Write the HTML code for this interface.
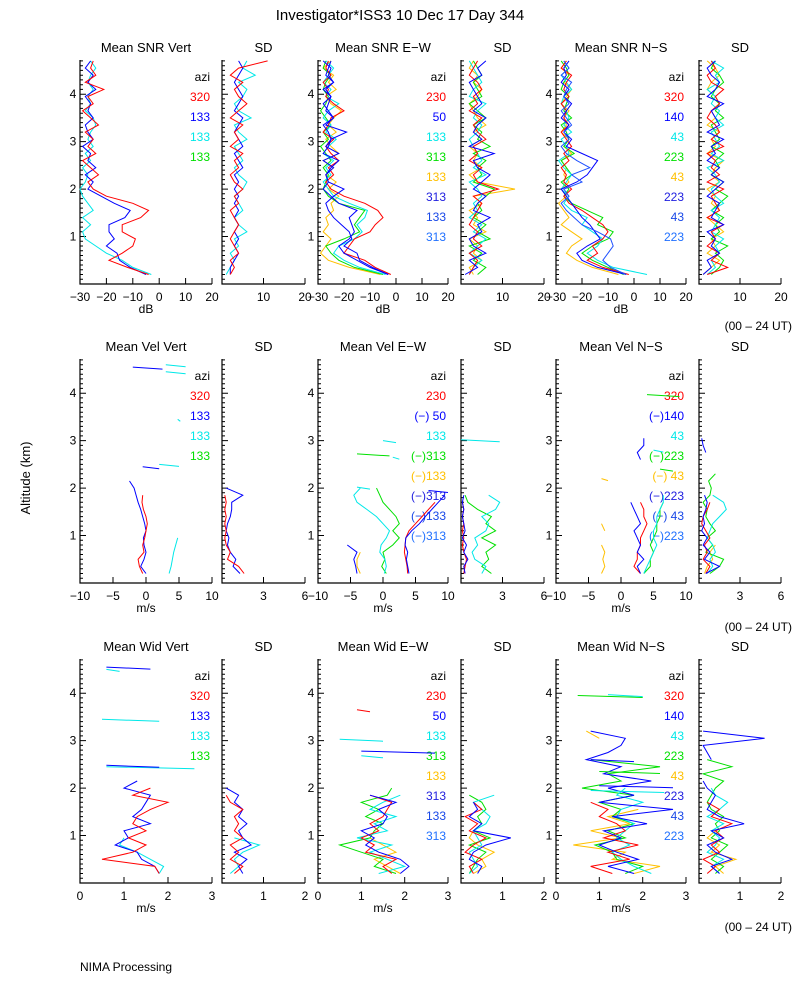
<!DOCTYPE html>
<html><head><meta charset="utf-8"><style>
html,body{margin:0;padding:0;background:#fff;}
svg{display:block;font-family:"Liberation Sans",sans-serif;}
</style></head><body>
<svg id="chart" width="800" height="1000" viewBox="0 0 800 1000">
<text x="400" y="20" text-anchor="middle" font-size="15">Investigator*ISS3   10 Dec 17 Day 344</text>
<text x="30" y="478" text-anchor="middle" font-size="13" transform="rotate(-90 30 478)">Altitude (km)</text>
<text x="80" y="971" font-size="12">NIMA Processing</text>
<text x="792" y="330" text-anchor="end" font-size="12">(00 – 24 UT)</text>
<text x="792" y="631" text-anchor="end" font-size="12">(00 – 24 UT)</text>
<text x="792" y="931" text-anchor="end" font-size="12">(00 – 24 UT)</text>
</svg>
<script>
// ---- data (range gates from 0.20 km every 0.15 km) ----
const gateStart = 0.2;
const gateStep = 0.15;
// Row 1: SNR (dB)
const snrVertRed = [-4,-12,-19,-14,-10,-9,-14,-14,-7,-4,-10,-20,-25,-27,-23,-26,-29,-24,-27,-25,-28,-23,-26,-29,-25,-27,-21,-28,-24,-26,-25];
const snrVertBlue = [-5,-11,-15,-16,-20,-17,-19,-19,-13,-11,-17,-22,-27,-25,-28,-24,-27,-26,-29,-25,-27,-28,-25,-27,-26,-28,-24,-27,-25,-28,-26];
const snrVertCyan = [-3,-10,-14,-20,-24,-28,-29,-26,-29,-25,-27,-29,-30,-28,-27,-29,-26,-28,-25,-27,-26,-24,-25,-28,-26,-27,-25,-27,-26,-24,-26];
const snrVertSdRed = [2,3,2,4,3,2,3,4,3,2,4,3,5,3,2,4,3,5,2,4,3,5,2,4,6,4,3,5,2,4,11];
const snrVertSdBlue = [2,2,3,4,3,4,3,4,3,4,3,4,3,4,3,5,4,3,5,4,3,4,5,3,4,5,4,3,4,5,4];
const snrVertSdCyan = [1,2,3,2,4,3,6,4,3,5,4,3,5,6,4,3,5,4,3,6,4,3,7,4,3,5,6,4,8,5,6];
const snrEwRed = [-2,-8,-12,-20,-18,-16,-10,-8,-5,-7,-12,-20,-25,-27,-24,-26,-22,-25,-27,-24,-28,-26,-25,-20,-24,-27,-26,-28,-25,-27,-26];
const snrEwBlue = [-3,-10,-15,-20,-22,-18,-16,-17,-18,-15,-22,-25,-28,-26,-27,-24,-28,-22,-27,-25,-26,-28,-24,-27,-26,-25,-28,-24,-27,-26,-25];
const snrEwCyan = [-4,-14,-20,-24,-22,-16,-13,-15,-12,-11,-18,-24,-26,-28,-25,-27,-24,-28,-26,-23,-27,-25,-28,-26,-22,-27,-25,-28,-26,-24,-27];
const snrEwGreen = [-5,-16,-22,-25,-27,-20,-14,-16,-14,-12,-22,-26,-28,-27,-26,-28,-25,-27,-29,-26,-28,-25,-27,-29,-27,-26,-28,-27,-25,-28,-27];
const snrEwOrange = [-6,-18,-26,-29,-27,-25,-28,-26,-27,-24,-25,-22,-26,-23,-27,-24,-28,-22,-25,-27,-23,-26,-24,-21,-25,-27,-23,-26,-24,-28,-25];
const snrEwBlue2 = [-3,-9,-14,-15,-20,-17,-18,-21,-24,-26,-27,-24,-20,-26,-27,-25,-22,-28,-26,-25,-19,-27,-24,-26,-28,-25,-27,-24,-26,-25,-28];
const snrEwSdRed = [2,3,4,2,5,3,4,2,3,4,5,3,9,4,3,5,2,4,3,6,4,3,5,2,4,3,5,4,2,3,4];
const snrEwSdGreen = [4,6,3,5,2,7,4,6,3,5,4,6,8,3,5,4,6,3,7,4,5,3,6,4,2,5,4,3,5,4,3];
const snrEwSdOrange = [3,2,5,3,4,2,6,3,4,2,5,3,13,4,2,5,3,4,2,5,3,6,4,3,2,4,5,3,4,2,3];
const snrEwSdBlue = [1,4,2,6,3,2,5,4,7,3,4,6,3,5,7,4,3,8,2,5,3,4,6,3,5,4,3,2,5,4,6];
const snrEwSdCyan = [2,3,5,2,4,6,3,5,2,4,3,5,4,2,6,3,5,4,3,2,4,5,3,4,6,2,3,5,4,3,2];
const snrNsRed = [-2,-12,-18,-14,-16,-12,-10,-12,-16,-20,-25,-27,-24,-27,-26,-28,-25,-27,-24,-26,-28,-25,-27,-26,-28,-25,-27,-26,-24,-28,-26];
const snrNsBlue = [-3,-14,-20,-22,-18,-13,-15,-17,-20,-22,-24,-26,-28,-22,-18,-16,-14,-20,-26,-24,-27,-25,-28,-26,-24,-27,-25,-28,-26,-27,-25];
const snrNsCyan = [5,-8,-14,-18,-14,-12,-16,-20,-18,-24,-27,-25,-28,-26,-24,-27,-29,-25,-26,-28,-24,-27,-25,-26,-28,-27,-24,-26,-28,-25,-27];
const snrNsGreen = [-4,-10,-16,-20,-16,-10,-8,-14,-12,-18,-24,-27,-25,-28,-24,-26,-28,-23,-27,-25,-26,-28,-24,-27,-26,-25,-28,-27,-25,-26,-28];
const snrNsOrange = [-6,-16,-22,-26,-24,-20,-24,-28,-25,-27,-29,-26,-28,-25,-27,-26,-28,-24,-27,-25,-28,-26,-27,-25,-28,-26,-24,-27,-25,-28,-26];
const snrNsBlue2 = [-3,-9,-12,-10,-8,-9,-14,-20,-23,-26,-28,-25,-27,-20,-24,-17,-22,-26,-28,-25,-27,-24,-26,-28,-25,-27,-26,-24,-28,-25,-27];
const snrNsSdRed = [2,7,3,5,2,4,3,6,2,5,4,3,6,2,5,3,4,2,6,3,5,4,2,3,5,4,6,3,2,4,3];
const snrNsSdBlue = [1,3,2,5,3,4,2,6,3,4,5,2,4,6,3,5,2,4,3,6,2,5,4,3,6,2,4,5,3,2,4];
const snrNsSdGreen = [3,5,6,4,7,3,5,4,6,3,5,7,4,6,3,5,4,6,3,5,4,3,6,4,5,3,4,6,5,3,4];
const snrNsSdCyan = [2,4,3,5,4,6,3,4,5,3,6,4,3,5,4,2,6,3,5,4,3,6,4,5,3,4,2,5,4,6,3];
const snrNsSdOrange = [1,3,5,2,4,3,6,4,2,5,3,4,2,5,3,4,6,2,4,3,5,2,4,3,5,4,2,3,5,4,2];
// Row 2: velocity (m/s)
const velVertRed = [-0.5,-1,-1.2,-0.3,-0.5,-0.2,0,0.2,0,-0.4,-0.6,-0.5];
const velVertBlue = [0,-0.8,-0.3,0,-0.3,-0.4,0,-0.2,-0.5,-0.8,-1.2,-1.5,-1.8,-2.5];
const velVertCyan = [3.5,3.8,4,4.2,4.5,4.8];
const velVertSdRed = [1.6,1.2,0.4,0.6,0.3,0.2,0.3,0.2,0.3,0.2,0.3,0.2];
const velVertSdBlue = [1.3,0.8,1,0.6,0.4,0.5,0.3,0.4,0.6,0.7,0.7,1.5,0.3];
const velEwRed = [3.8,3.7,3.5,3.3,3.4,3.5,4,5,6,7,8];
const velEwBlue2 = [4,3.8,3.6,3.8,3.4,3.5,4.4,5.6,6.5,7.5,8.5,9.5];
const velEwCyan = [0.2,0.5,0.3,-0.5,-0.3,0.5,1,0,-1,-2.5,-4,-4.5,-3.5];
const velEwGreen = [0.5,-0.2,0.3,0,1.5,2.5,1.5,2.5,2,1,0,-0.5,-1];
const velEwOrange = [-3.5,-4,-4,-3.5];
const velEwBlue = [-4,-4.2,-4.5,-4,-5.5];
const velEwSdRed = [0.2,0.3,0.4,0.2,0.1,0.2,0.1,0.2,0.1,0.2,0.1];
const velEwSdGreen = [2.2,1.5,2,1.8,2.5,1.5,2.5,1.8,2.2,1.2,0.5,0.3];
const velEwSdCyan = [1.5,1.8,1,0.8,1.2,1,1.8,2,1.5,2.5,2.8,2];
const velEwSdBlue = [0.3,0.2,0.5,0.2,0.4,0.1,0.3,0.2,0.1,0.2,0.1,0.2];
const velNsRed = [3,2,2.5,2.5,3,3,3.5,4,3.5,3.5,3];
const velNsBlue = [3,2.5,3.5,2.5,3,2.5,2,3,2.5,2,1.5,null,null,null,null,null,3,2.5,3.5,3.5];
const velNsGreen = [3.5,4.5,4.5,5,4.5,5,5.5,5.5,6,6,6.5];
const velNsCyan = [3.5,4,4.5,5,5.5,5,5,5.5,5.5,6,6.5,6.5];
const velNsOrange = [-3,-2.5,-2.8,-2.5,-3,null,-2.5,-3];
const velNsSdRed = [0.5,0.8,0.3,0.6,0.4,0.8,0.5,0.2,0.3,0.6,0.8];
const velNsSdBlue = [0.5,1.5,0.4,0.8,0.3,0.6,0.2,0.4,0.3,0.5,0.6,0.4,null,null,null,null,null,0.5,0.3,0.2];
const velNsSdGreen = [0.8,1.5,1.8,0.5,1.0,0.6,1.2,0.8,0.5,0.6,0.3,0.8,0.9,0.7,1.2];
const velNsSdCyan = [0.6,1.0,0.8,1.2,1.0,0.6,0.8,1.0,1.5,2.0,1.8,1.0];
const velNsSdOrange = [0.4,0.6,1.0,0.8,1.2];
// Row 3: spectral width (m/s)
const widVertRed = [1.8,1.7,0.5,1.2,1.5,1.1,1.5,1.2,1.3,1.6,2.0,1.2,1.6];
const widVertBlue = [1.8,1.7,1.4,1.3,0.8,1.1,1.0,1.6,1.2,1.4,1.5,1.6,1.0,1.3];
const widVertCyan = [1.8,1.9,1.6,1.3,0.9,1.0];
const widVertSdRed = [0.3,0.5,0.2,0.4,0.2,0.5,0.3,0.4,0.3,0.5,0.2,0.1];
const widVertSdBlue = [0.5,0.4,0.6,0.3,0.7,0.5,0.4,0.6,0.4,0.5,0.3,0.4,0.1];
const widVertSdCyan = [0.2,0.4,0.3,0.5,0.9,0.3];
const widEwRed = [1.7,1.5,1.8,1.1,1.3,1.0,1.4,1.2,1.5,1.6,1.7,1.2];
const widEwBlue = [1.9,2.1,1.9,1.4,1.1,1.3,1.0,1.5,1.6,1.4,1.8,1.2];
const widEwGreen = [1.8,1.3,1.5,1.0,0.5,1.2,1.3,1.5,1.1,1.4,1.0,1.6,1.7];
const widEwCyan = [1.4,2.0,1.6,1.2,1.7,0.9,1.6,1.3,1.8,1.2,1.5,1.9];
const widEwOrange = [1.9,1.6,1.3,1.8,1.5,1.2];
const widEwSdRed = [0.3,0.2,0.5,0.1,0.3,0.6,0.2,0.4,0.1,0.5,0.3];
const widEwSdBlue = [0.4,0.5,0.2,0.3,0.6,1.2,0.3,0.5,0.2,0.4,0.3];
const widEwSdGreen = [0.2,0.3,0.4,0.6,0.2,0.7,0.3,0.5,0.4,0.6,0.5,0.2];
const widEwSdOrange = [0.3,0.6,0.5,0.8,0.4,0.2,0.3];
const widEwSdCyan = [0.2,0.4,0.3,0.2,0.5,0.4,0.3,0.6,0.7,0.5,0.3,0.8];
const widNsBlue = [1.8,1.2,1.9,1.4,1.0,1.5,1.1,2.1,1.3,2.7,1.0,1.8,1.2,2.2,1.1,1.5,0.7,1.2,1.5,1.6,0.8];
const widNsGreen = [1.6,2.0,1.4,1.3,0.9,1.6,1.2,1.8,1.3,1.5,1.0,1.8,0.6,1.5,1.2,2.4,0.8];
const widNsCyan = [2.2,1.8,1.5,1.3,1.7,1.4,1.6,1.8,1.4,1.5,2.0,1.4,1.6];
const widNsOrange = [1.8,2.4,1.3,1.6,0.4,1.5,0.8,1.7,1.2,1.9,null,null,null,null,null,null,null,null,null,1.0,0.7];
const widNsRed = [1.3,0.8,1.7,1.2,1.9,1.1,1.6,1.4,1.0,1.2,0.8];
const widNsSdBlue = [0.5,0.3,0.8,0.4,0.2,0.6,0.3,1.1,0.5,0.2,0.3,0.4,0.2,0.1,null,null,0.3,0.2,0.1,1.6,0.1];
const widNsSdGreen = [0.4,0.6,0.3,0.5,0.7,0.3,0.5,0.4,0.6,0.3,0.2,0.3,0.4,0.6,0.1,0.8,0.2];
const widNsSdCyan = [0.5,0.3,0.6,0.2,0.4,0.5,0.3,0.6,0.2,0.5,0.7,0.4,0.3];
const widNsSdOrange = [0.6,0.4,0.9,0.3,0.5,0.2,0.4];
const widNsSdRed = [0.2,0.4,0.1,0.5,0.3,0.6,0.4,0.8,0.3,0.5,0.2];
// isolated short runs: altitude (km), start value, end value
const velVertSegAlt = [4.55,4.6,4.45,2.45,2.5,3.45];
const velVertSegFrom = [-2,3,3,-0.5,2,4.8];
const velVertSegTo = [2.5,6,6,2,5,5.2];
const velEwSegAlt = [3.0,2.72,1.95,2.65,2.02];
const velEwSegFrom = [0,-4,7,1.5,-4];
const velEwSegTo = [2,1,10,2.5,-2];
const velEwSdSegAlt = [3.02];
const velEwSdSegFrom = [0];
const velEwSdSegTo = [2.8];
const velNsSegAlt = [3.97,2.8,2.4,2.2];
const velNsSegFrom = [4,5,6,-3];
const velNsSegTo = [9,6.5,8,-2];
const widVertSegAlt = [2.45,2.48,3.45,4.55,4.5];
const widVertSegFrom = [0.6,0.6,0.5,0.6,0.6];
const widVertSegTo = [2.6,1.8,1.8,1.6,0.9];
const widEwSegAlt = [3.03,2.78,2.68,3.65];
const widEwSegFrom = [0.5,1.0,1.0,0.9];
const widEwSegTo = [1.5,2.7,1.5,1.2];
const widNsSegAlt = [3.95,3.97,2.35,1.95,2.05,2.6];
const widNsSegFrom = [0.5,1.2,1.0,0.8,1.0,0.8];
const widNsSegTo = [2.0,2.0,2.4,2.5,2.7,1.8];
// tick labels / legends
const altTicks = [1,2,3,4];
const ticksSnr = [-30,-20,-10,0,10,20];
const ticksSnrSd = [10,20];
const ticksVel = [-10,-5,0,5,10];
const ticksVelSd = [3,6];
const ticksWid = [0,1,2,3];
const ticksWidSd = [1,2];
const legendVert = ["320","133","133","133"];
const legendVertColors = ["#ff0000","#0000ff","#00e8e8","#00e000"];
const legendEw = ["230","50","133","313","133","313","133","313"];
const legendEwVel = ["230","(−) 50","133","(−)313","(−)133","(−)313","(−)133","(−)313"];
const legendNs = ["320","140","43","223","43","223","43","223"];
const legendNsVel = ["320","(−)140","43","(−)223","(−) 43","(−)223","(−) 43","(−)223"];
const legend8Colors = ["#ff0000","#0000ff","#00e8e8","#00e000","#ffc000","#2020e0","#1848e8","#2070ff"];

const R="#ff0000",B="#0000ff",C="#00e8e8",G="#00e000",O="#ffc000",B2="#1e50ff";
const NS="http://www.w3.org/2000/svg";
const svg=document.getElementById('chart');
const rowTop=[60,359,659], H=224, KM_MAX=4.72;
function yOf(row,km){return rowTop[row]+H-km/KM_MAX*H;}
function xOf(p,v){return p.x0+(v-p.min)/(p.max-p.min)*(p.x1-p.x0);}
function mk(tag,attrs,parent){const e=document.createElementNS(NS,tag);for(const k in attrs)e.setAttribute(k,attrs[k]);(parent||svg).appendChild(e);return e;}

const panels=[
 {row:0,x0:80,x1:212,min:-30,max:20,ticks:ticksSnr,main:true,title:"Mean SNR Vert",unit:"dB",legend:legendVert,lc:legendVertColors,series:[[snrVertCyan,C],[snrVertBlue,B],[snrVertRed,R]]},
 {row:0,x0:222,x1:305,min:0,max:20,ticks:ticksSnrSd,title:"SD",series:[[snrVertSdCyan,C],[snrVertSdBlue,B],[snrVertSdRed,R]]},
 {row:0,x0:318,x1:448,min:-30,max:20,ticks:ticksSnr,main:true,title:"Mean SNR E−W",unit:"dB",legend:legendEw,lc:legend8Colors,series:[[snrEwOrange,O],[snrEwGreen,G],[snrEwCyan,C],[snrEwRed,R],[snrEwBlue,B],[snrEwBlue2,B]]},
 {row:0,x0:461,x1:544,min:0,max:20,ticks:ticksSnrSd,title:"SD",series:[[snrEwSdOrange,O],[snrEwSdGreen,G],[snrEwSdCyan,C],[snrEwSdRed,R],[snrEwSdBlue,B]]},
 {row:0,x0:556,x1:686,min:-30,max:20,ticks:ticksSnr,main:true,title:"Mean SNR N−S",unit:"dB",legend:legendNs,lc:legend8Colors,series:[[snrNsOrange,O],[snrNsGreen,G],[snrNsCyan,C],[snrNsRed,R],[snrNsBlue,B],[snrNsBlue2,B2]]},
 {row:0,x0:699,x1:781,min:0,max:20,ticks:ticksSnrSd,title:"SD",series:[[snrNsSdOrange,O],[snrNsSdGreen,G],[snrNsSdCyan,C],[snrNsSdRed,R],[snrNsSdBlue,B]]},
 {row:1,x0:80,x1:212,min:-10,max:10,ticks:ticksVel,main:true,title:"Mean Vel Vert",unit:"m/s",legend:legendVert,lc:legendVertColors,series:[[velVertCyan,C],[velVertBlue,B],[velVertRed,R]],segs:[velVertSegAlt,velVertSegFrom,velVertSegTo,[B,C,C,B,C,C]]},
 {row:1,x0:222,x1:305,min:0,max:6,ticks:ticksVelSd,title:"SD",series:[[velVertSdBlue,B],[velVertSdRed,R]]},
 {row:1,x0:318,x1:448,min:-10,max:10,ticks:ticksVel,main:true,title:"Mean Vel E−W",unit:"m/s",legend:legendEwVel,lc:legend8Colors,series:[[velEwOrange,O],[velEwGreen,G],[velEwCyan,C],[velEwRed,R],[velEwBlue,B],[velEwBlue2,B]],segs:[velEwSegAlt,velEwSegFrom,velEwSegTo,[C,G,B,C,C]]},
 {row:1,x0:461,x1:544,min:0,max:6,ticks:ticksVelSd,title:"SD",series:[[velEwSdGreen,G],[velEwSdCyan,C],[velEwSdRed,R],[velEwSdBlue,B]],segs:[velEwSdSegAlt,velEwSdSegFrom,velEwSdSegTo,[C]]},
 {row:1,x0:556,x1:686,min:-10,max:10,ticks:ticksVel,main:true,title:"Mean Vel N−S",unit:"m/s",legend:legendNsVel,lc:legend8Colors,series:[[velNsOrange,O],[velNsGreen,G],[velNsCyan,C],[velNsRed,R],[velNsBlue,B]],segs:[velNsSegAlt,velNsSegFrom,velNsSegTo,[G,C,G,O]]},
 {row:1,x0:699,x1:781,min:0,max:6,ticks:ticksVelSd,title:"SD",series:[[velNsSdOrange,O],[velNsSdGreen,G],[velNsSdCyan,C],[velNsSdRed,R],[velNsSdBlue,B]]},
 {row:2,x0:80,x1:212,min:0,max:3,ticks:ticksWid,main:true,title:"Mean Wid Vert",unit:"m/s",legend:legendVert,lc:legendVertColors,series:[[widVertCyan,C],[widVertBlue,B],[widVertRed,R]],segs:[widVertSegAlt,widVertSegFrom,widVertSegTo,[C,B,C,B,C]]},
 {row:2,x0:222,x1:305,min:0,max:2,ticks:ticksWidSd,title:"SD",series:[[widVertSdCyan,C],[widVertSdBlue,B],[widVertSdRed,R]]},
 {row:2,x0:318,x1:448,min:0,max:3,ticks:ticksWid,main:true,title:"Mean Wid E−W",unit:"m/s",legend:legendEw,lc:legend8Colors,series:[[widEwOrange,O],[widEwGreen,G],[widEwCyan,C],[widEwRed,R],[widEwBlue,B]],segs:[widEwSegAlt,widEwSegFrom,widEwSegTo,[C,B,C,R]]},
 {row:2,x0:461,x1:544,min:0,max:2,ticks:ticksWidSd,title:"SD",series:[[widEwSdOrange,O],[widEwSdGreen,G],[widEwSdCyan,C],[widEwSdRed,R],[widEwSdBlue,B]]},
 {row:2,x0:556,x1:686,min:0,max:3,ticks:ticksWid,main:true,title:"Mean Wid N−S",unit:"m/s",legend:legendNs,lc:legend8Colors,series:[[widNsOrange,O],[widNsGreen,G],[widNsCyan,C],[widNsRed,R],[widNsBlue,B]],segs:[widNsSegAlt,widNsSegFrom,widNsSegTo,[G,C,G,C,B,B]]},
 {row:2,x0:699,x1:781,min:0,max:2,ticks:ticksWidSd,title:"SD",series:[[widNsSdOrange,O],[widNsSdGreen,G],[widNsSdCyan,C],[widNsSdRed,R],[widNsSdBlue,B]]}
];

panels.forEach((p,pi)=>{
  const g=mk('g',{});
  
  
  const top=rowTop[p.row], bot=top+H;
  const t=mk('text',{x:(p.x0+p.x1)/2,y:top-8,'text-anchor':'middle','font-size':'13'},g);
  t.textContent=p.title;
  
  
  const ax=mk('path',{d:`M${p.x0} ${top}V${bot}H${p.x1}`,stroke:'#000','stroke-width':'1.2',fill:'none'},g);
  
  
  let d='';
  for(let k=1;k<=47;k++){const km=k/10;const y=yOf(p.row,km);if(y<top)break;const major=k%10===0;d+=`M${p.x0} ${y.toFixed(1)}h${major?6:3}`;}
  p.ticks.forEach(v=>{const x=xOf(p,v);d+=`M${x.toFixed(1)} ${bot}v-6`;});
  const tk=mk('path',{d:d,stroke:'#000','stroke-width':'1',fill:'none'},g);
  
  
  p.ticks.forEach(v=>{
    const tl=mk('text',{x:xOf(p,v),y:bot+17,'text-anchor':'middle','font-size':'12'},g);
    tl.textContent=String(v).replace('-','−');
    
    
  });
  if(p.main){
    altTicks.forEach(a=>{
      const yl=mk('text',{x:p.x0-7,y:yOf(p.row,a)+4,'text-anchor':'middle','font-size':'12'},g);
      yl.textContent=a;
      
      
    });
    const u=mk('text',{x:(p.x0+p.x1)/2,y:bot+29,'text-anchor':'middle','font-size':'12'},g);
    u.textContent=p.unit;
    
    
    const az=mk('text',{x:p.x1-2,y:top+21,'text-anchor':'end','font-size':'12'},g);
    az.textContent='azi';
    
    
    p.legend.forEach((lab,i)=>{
      const le=mk('text',{x:p.x1-2,y:top+41+i*20,'text-anchor':'end','font-size':'12',fill:p.lc[i]},g);
      le.textContent=lab;
      
      
    });
  }
  p.series.forEach(([vals,col])=>{
    let path='',pen=false;
    vals.forEach((v,i)=>{
      if(v===null||v===undefined){pen=false;return;}
      const km=gateStart+i*gateStep;
      const x=Math.max(p.x0,Math.min(p.x1,xOf(p,v))), y=yOf(p.row,km);
      path+=(pen?'L':'M')+x.toFixed(1)+' '+y.toFixed(1);
      pen=true;
    });
    const s=mk('path',{d:path,stroke:col,'stroke-width':'1',fill:'none'},g);
    
    
  });
  if(p.segs){
    const [alts,from,to,cols]=p.segs;
    alts.forEach((a,i)=>{
      const x1=Math.max(p.x0,Math.min(p.x1,xOf(p,from[i]))), x2=Math.max(p.x0,Math.min(p.x1,xOf(p,to[i])));
      const y=yOf(p.row,a);
      const s=mk('path',{d:`M${x1.toFixed(1)} ${y.toFixed(1)}L${x2.toFixed(1)} ${(y+2).toFixed(1)}`,stroke:cols[i],'stroke-width':'1',fill:'none'},g);
      
      
    });
  }
});
</script>
</body></html>
